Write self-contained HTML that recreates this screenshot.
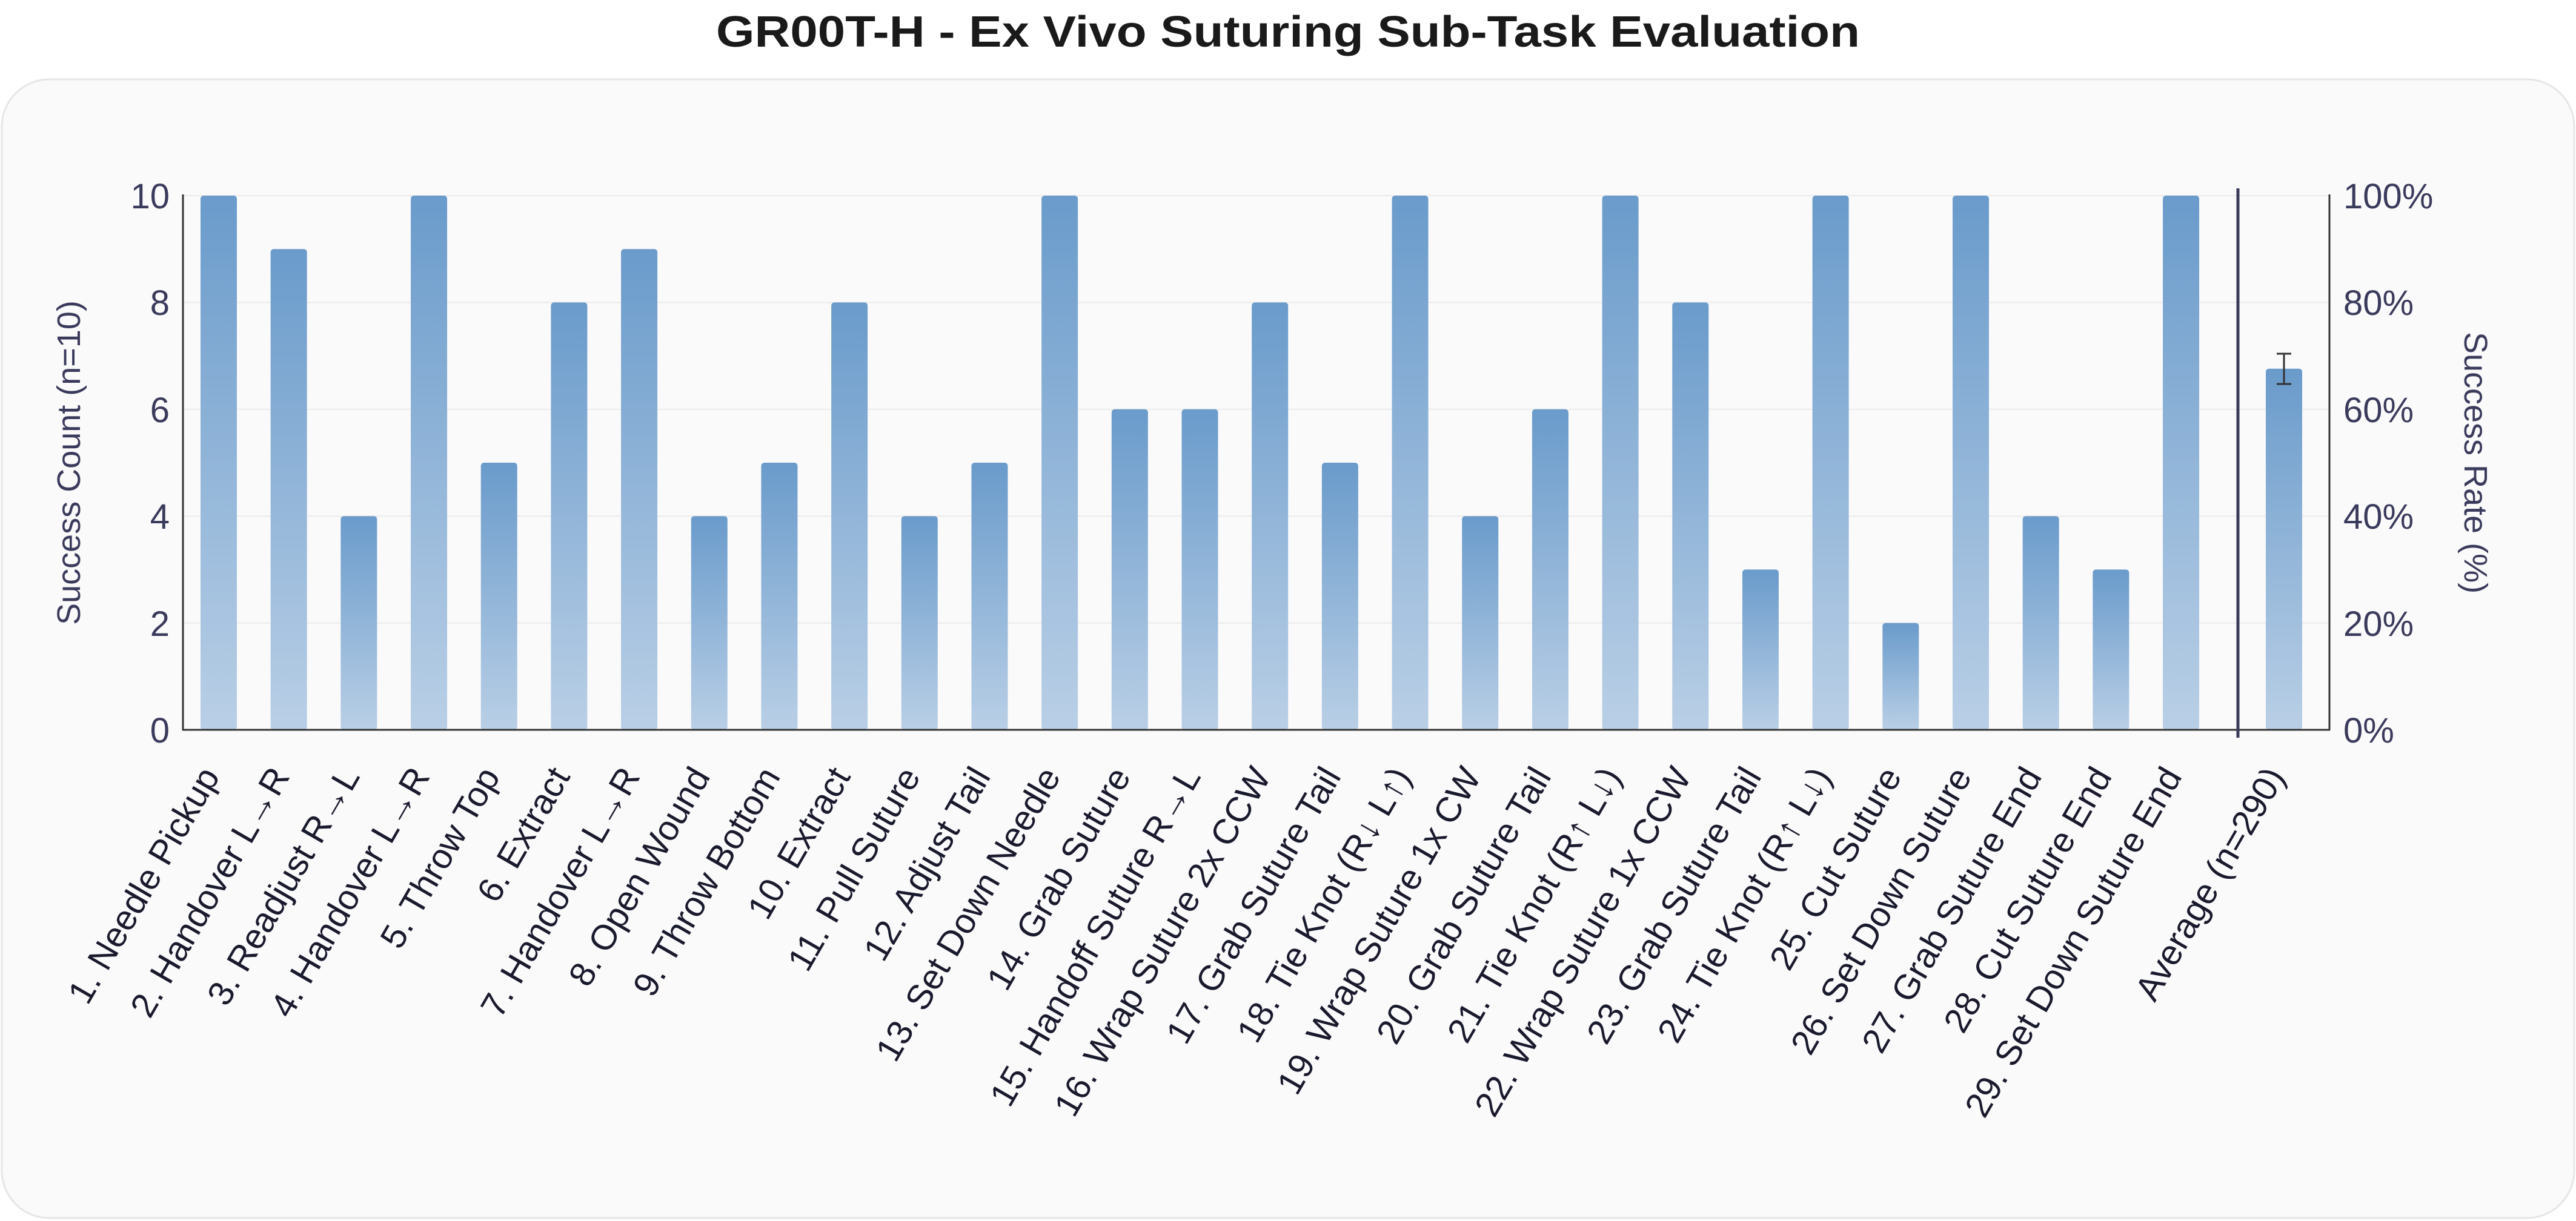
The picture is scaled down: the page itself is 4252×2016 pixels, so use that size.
<!DOCTYPE html>
<html><head><meta charset="utf-8"><style>
html,body{margin:0;padding:0;background:#fff;}
svg{display:block;font-family:"Liberation Sans",Arial,sans-serif;}
</style></head><body>
<svg width="4252" height="2016" viewBox="0 0 4252 2016" xmlns="http://www.w3.org/2000/svg">
<defs>
<linearGradient id="g" x1="0" y1="0" x2="0" y2="1">
<stop offset="0" stop-color="#6a9bcb"/><stop offset="1" stop-color="#b9cfe6"/>
</linearGradient>
</defs>
<rect x="0" y="0" width="4252" height="2016" fill="#fff"/>
<rect x="3" y="131" width="4246" height="1880" rx="78" ry="78" fill="#fafafa" stroke="#e6e6e6" stroke-width="3"/>
<text x="2126" y="77" text-anchor="middle" font-size="72" font-weight="bold" fill="#1a1a1a" textLength="1888" lengthAdjust="spacingAndGlyphs">GR00T-H - Ex Vivo Suturing Sub-Task Evaluation</text>
<g stroke="#ebebeb" stroke-width="2">
<line x1="302" y1="323" x2="3845" y2="323"/>
<line x1="302" y1="499.4" x2="3845" y2="499.4"/>
<line x1="302" y1="675.8" x2="3845" y2="675.8"/>
<line x1="302" y1="852.2" x2="3845" y2="852.2"/>
<line x1="302" y1="1028.6" x2="3845" y2="1028.6"/>
</g>
<g id="bars"></g>
<g fill="#3a3a5c" font-size="58" text-anchor="end">
<text x="280" y="344">10</text><text x="280" y="520">8</text><text x="280" y="697">6</text><text x="280" y="873">4</text><text x="280" y="1050">2</text><text x="280" y="1226">0</text>
</g>
<g fill="#3a3a5c" font-size="58" text-anchor="start">
<text x="3868" y="344">100%</text><text x="3868" y="520">80%</text><text x="3868" y="697">60%</text><text x="3868" y="873">40%</text><text x="3868" y="1050">20%</text><text x="3868" y="1226">0%</text>
</g>
<text transform="translate(132,764) rotate(-90)" text-anchor="middle" font-size="54" fill="#3a3a5c">Success Count (n=10)</text>
<text transform="translate(4068,764) rotate(90)" text-anchor="middle" font-size="54" fill="#3a3a5c">Success Rate (%)</text>
<g id="labels" font-size="58" fill="#1a1a2e" text-anchor="end"></g>
<line x1="302" y1="321" x2="302" y2="1206" stroke="#333" stroke-width="3"/>
<line x1="3845" y1="321" x2="3845" y2="1206" stroke="#333" stroke-width="3"/>
<line x1="301" y1="1205" x2="3846" y2="1205" stroke="#333" stroke-width="3"/>
<line x1="3694" y1="311" x2="3694" y2="1218" stroke="#3a3a5c" stroke-width="5"/>
<g stroke="#333" stroke-width="3">
<line x1="3770" y1="584" x2="3770" y2="634"/>
<line x1="3758" y1="584" x2="3782" y2="584"/>
<line x1="3758" y1="634" x2="3782" y2="634"/>
</g>
</svg>
<script>
var vals=[10,9,4,10,5,8,9,4,5,8,4,5,10,6,6,8,5,10,4,6,10,8,3,10,2,10,4,3,10];
var names=["1. Needle Pickup","2. Handover L→R","3. Readjust R→L","4. Handover L→R","5. Throw Top","6. Extract","7. Handover L→R","8. Open Wound","9. Throw Bottom","10. Extract","11. Pull Suture","12. Adjust Tail","13. Set Down Needle","14. Grab Suture","15. Handoff Suture R→L","16. Wrap Suture 2x CCW","17. Grab Suture Tail","18. Tie Knot (R↓ L↑)","19. Wrap Suture 1x CW","20. Grab Suture Tail","21. Tie Knot (R↑ L↓)","22. Wrap Suture 1x CCW","23. Grab Suture Tail","24. Tie Knot (R↑ L↓)","25. Cut Suture","26. Set Down Suture","27. Grab Suture End","28. Cut Suture End","29. Set Down Suture End"];
var NS="http://www.w3.org/2000/svg";
var bars=document.getElementById("bars"),labels=document.getElementById("labels");
function bar(cx,v){var h=v*88.2;var r=document.createElementNS(NS,"rect");
r.setAttribute("x",cx-30);r.setAttribute("y",1205-h);r.setAttribute("width",60);r.setAttribute("height",h);
r.setAttribute("rx",5);r.setAttribute("fill","url(#g)");bars.appendChild(r);}
function lab(cx,t){var e=document.createElementNS(NS,"text");
e.setAttribute("transform","translate("+(cx-14)+",1272) rotate(-60)");e.setAttribute("dominant-baseline","central");
e.textContent=t;labels.appendChild(e);}
for(var i=0;i<29;i++){var cx=361+i*115.68;bar(cx,vals[i]);lab(cx,names[i]);}
bar(3770,6.76);lab(3770,"Average (n=290)");
</script>
</body></html>
